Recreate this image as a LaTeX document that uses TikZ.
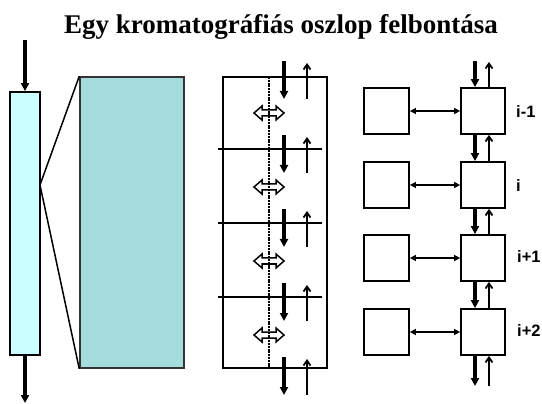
\documentclass[tikz,border=0pt]{standalone}
\usepackage{fontspec}
\setmainfont{Liberation Serif}
\newfontfamily\labelfont{Liberation Sans}
\usetikzlibrary{arrows.meta}
\definecolor{colcyan}{RGB}{204,255,255}
\definecolor{packfill}{RGB}{165,220,220}
\begin{document}
\begin{tikzpicture}[x=1pt,y=-1pt,
  box/.style={draw=black,line width=1.8pt,minimum width=45pt,minimum height=46pt,inner sep=0pt},
  downarr/.style={line width=3.2pt,-{Triangle[length=8pt,width=8pt]}},
  uparr/.style={line width=1.8pt,-{Straight Barb[length=5pt,width=7pt]}},
  exch/.style={line width=2pt,{Triangle[length=6pt,width=6pt]}-{Triangle[length=6pt,width=6pt]}},
  hollow/.style={draw=black,line width=1.5pt},
  lbl/.style={font=\labelfont\bfseries\fontsize{16.5}{18}\selectfont,anchor=west,inner sep=0pt}]
\useasboundingbox (0,0) rectangle (542,404);
% title
\node[anchor=base,inner sep=0pt,font=\bfseries\fontsize{27}{30}\selectfont] (title) at (281,34) {Egy kromatográfiás oszlop felbontása};
% left column
\node[draw=black,line width=1.8pt,fill=colcyan,minimum width=30pt,minimum height=263pt,inner sep=0pt] (col) at (25,223.5) {};
\coordinate (colin) at (25,40);
\coordinate (colout) at (25,403);
\draw[downarr] (colin) -- (col.north);
\draw[downarr] (col.south) -- (colout);
% enlarged packing
\node[draw=black!80,line width=1.5pt,fill=packfill,minimum width=104pt,minimum height=291pt,inner sep=0pt] (pack) at (132,222.5) {};
\coordinate (zoompt) at (40,185);
\draw[line width=1.5pt] (pack.north west) -- (zoompt) -- (pack.south west);
% middle column
\node[draw=black,line width=2pt,minimum width=104pt,minimum height=291pt,inner sep=0pt] (mid) at (275,222.5) {};
\foreach \k/\yy in {1/149,2/223,3/297}{
  \coordinate (sepL\k) at (218,\yy);
  \coordinate (sepR\k) at (322,\yy);
  \draw[line width=1.8pt] (sepL\k) -- (sepR\k);
}
\foreach \k in {0,...,3}{
  \pgfmathsetmacro{\yc}{113+74*\k}
  \draw[hollow] (269-15,\yc) -- (269-7,\yc-7) -- (269-7,\yc-3) -- (269+7,\yc-3) -- (269+7,\yc-7) -- (269+15,\yc) -- (269+7,\yc+7) -- (269+7,\yc+3) -- (269-7,\yc+3) -- (269-7,\yc+7) -- cycle;
}
\coordinate (dotT) at (269,77);
\coordinate (dotB) at (269,368);
\draw[line width=2.6pt,dash pattern=on 2pt off 0.8pt] (dotT) -- (dotB);
\foreach \k in {0,...,4}{
  \pgfmathsetmacro{\ya}{61+74*\k}
  \pgfmathsetmacro{\yb}{99+74*\k}
  \pgfmathsetmacro{\yu}{63+74*\k}
  \coordinate (mdA\k) at (284,\ya);
  \coordinate (mdB\k) at (284,\yb);
  \coordinate (muA\k) at (307,\yb);
  \coordinate (muB\k) at (307,\yu);
  \draw[downarr] (mdA\k) -- (mdB\k);
  \draw[uparr] (muA\k) -- (muB\k);
}
% right part: stages
\node[box] (L1) at (386.5,111) {};
\node[box] (L2) at (386.5,185) {};
\node[box] (L3) at (386.5,258) {};
\node[box] (L4) at (386.5,332) {};
\node[box,minimum width=44pt] (R1) at (483,111) {};
\node[box,minimum width=44pt] (R2) at (483,185) {};
\node[box,minimum width=44pt] (R3) at (483,258) {};
\node[box,minimum width=44pt] (R4) at (483,332) {};
\foreach \k in {1,...,4}{ \draw[exch] (L\k.east) -- (R\k.west); }
\coordinate (inD) at (475,61);
\coordinate (outU) at (489,62);
\coordinate (outD) at (475,386);
\coordinate (inU) at (489,386);
\draw[downarr] (inD) -- ([xshift=-8pt]R1.north);
\draw[uparr] ([xshift=6pt]R1.north) -- (outU);
\foreach \a/\b in {1/2,2/3,3/4}{
  \draw[downarr] ([xshift=-8pt]R\a.south) -- ([xshift=-8pt]R\b.north);
  \draw[uparr] ([xshift=6pt]R\b.north) -- ([xshift=6pt]R\a.south);
}
\draw[downarr] ([xshift=-8pt]R4.south) -- (outD);
\draw[uparr] (inU) -- ([xshift=6pt]R4.south);
\node[lbl] (l1) at (516,112) {i-1};
\node[lbl] (l2) at (516,186) {i};
\node[lbl] (l3) at (517,257) {i+1};
\node[lbl] (l4) at (517,331) {i+2};
\end{tikzpicture}
\end{document}
